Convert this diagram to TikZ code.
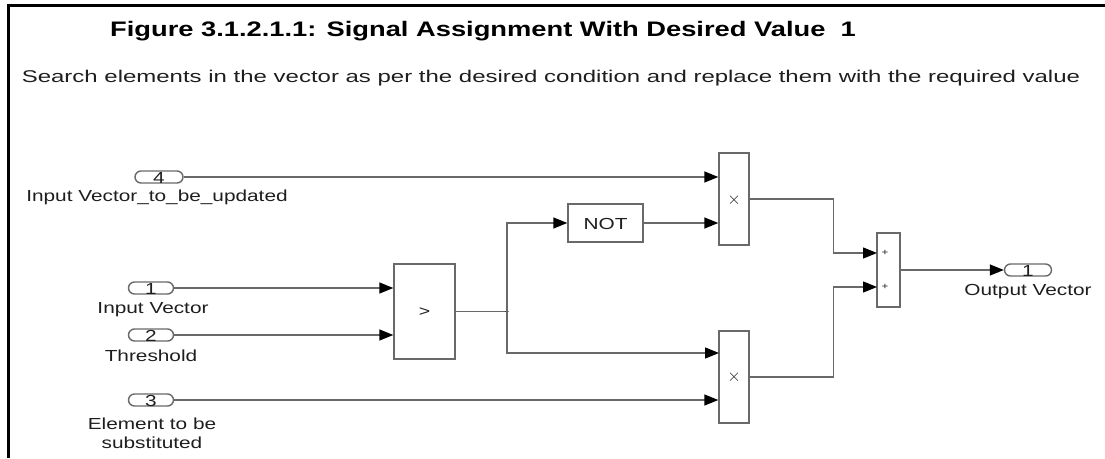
\documentclass[tikz,border=0pt]{standalone}
\usepackage{fontspec}
\usepackage{graphicx}
\setmainfont[FakeStretch=1.3]{Liberation Sans}
\usetikzlibrary{arrows.meta,shapes.misc}
\definecolor{wirec}{RGB}{105,105,105}
\definecolor{txtc}{RGB}{30,30,30}
\begin{document}
\begin{tikzpicture}[x=1pt,y=-1pt,
  wire/.style={draw=wirec, line width=1.4pt},
  arr/.style={wire, -{Triangle[length=14pt,width=11pt,color=black]}},
  block/.style={draw=wirec, line width=1.4pt, fill=white, inner sep=0pt},
  port/.style={rounded rectangle, draw=wirec, line width=1.4pt, minimum width=45pt, minimum height=12pt, inner sep=0pt},
  lbl/.style={font=\fontsize{16}{19}\selectfont, text=txtc, inner sep=0pt, align=center},
  num/.style={font=\fontsize{16}{16}\selectfont, text=txtc, inner sep=0pt},
  sym/.style={font=\fontsize{11}{11}\selectfont, text=txtc, inner sep=0pt}]
\useasboundingbox (0,0) rectangle (1105,458);
% frame
\draw[line width=3pt, black] (8,458) -- (8,5) -- (1105,5);
% titles
\node[font=\bfseries\fontsize{21}{23}\selectfont, text=black, inner sep=0pt] (title) at (483,31) {Figure 3.1.2.1.1: Signal Assignment With Desired Value\ \ 1};
\node[font=\fontsize{17}{19}\selectfont, text=txtc, inner sep=0pt] (sub) at (551,78) {\scalebox{1.085}[1]{Search elements in the vector as per the desired condition and replace them with the required value}};
% inports
\node[port, minimum width=48pt] (in4) at (159,177) {};
\node[num] at (159,178) {4};
\node[lbl] (l4) at (157,197) {Input Vector\_to\_be\_updated};
\node[port] (in1) at (151,288) {};
\node[num] at (151,289) {1};
\node[lbl] (l1) at (153,310) {Input Vector};
\node[port] (in2) at (151,335) {};
\node[num] at (151,336) {2};
\node[lbl] (l2) at (151,356) {Threshold};
\node[port] (in3) at (151,400) {};
\node[num] at (151,401) {3};
\node[lbl] (l3) at (152,433) {Element to be\\substituted};
% blocks
\node[block, minimum width=61pt, minimum height=95pt] (gt) at (424.5,311.5) {};
\node[sym, font=\fontsize{15}{15}\selectfont] at (424.5,312) {>};
\node[block, minimum width=75pt, minimum height=38pt] (not) at (605.5,223) {};
\node[lbl] at (605.5,224) {NOT};
\node[block, minimum width=30pt, minimum height=92pt] (p1) at (734,199) {};
\node[sym, font=\fontsize{17}{17}\selectfont] at (734,200) {$\times$};
\node[block, minimum width=30pt, minimum height=92pt] (p2) at (734,377) {};
\node[sym, font=\fontsize{17}{17}\selectfont] at (734,377) {$\times$};
\node[block, minimum width=23pt, minimum height=74pt] (sum) at (888.5,270) {};
\node[sym, font=\fontsize{9}{9}\selectfont] at (885,253) {+};
\node[sym, font=\fontsize{9}{9}\selectfont] at (885,287) {+};
% outport
\node[port, minimum width=47pt] (out) at (1028,270) {};
\node[num] at (1028,271) {1};
\node[lbl] (lo) at (1028,292) {Output Vector};
% named points
\coordinate (br) at (507,311.5);
\coordinate (p2a) at (719,353);
\coordinate (s1) at (877,253);
\coordinate (s2) at (877,287);
% wires
\draw[arr] (in4.east) -- (in4.east -| p1.west);
\draw[arr] (in1.east) -- (in1.east -| gt.west);
\draw[arr] (in2.east) -- (in2.east -| gt.west);
\draw[arr] (in3.east) -- (in3.east -| p2.west);
\draw[wire] (gt.east) -- (br);
\fill[black] (br) circle (1.6pt);
\draw[arr] (br) |- (not.west);
\draw[arr] (br) |- (p2a);
\draw[arr] (not.east) -- (not.east -| p1.west);
\draw[arr] (p1.east) -- ++(84,0) |- (s1);
\draw[arr] (p2.east) -- ++(84,0) |- (s2);
\draw[arr] (sum.east) -- (out.west);
\end{tikzpicture}
\end{document}
